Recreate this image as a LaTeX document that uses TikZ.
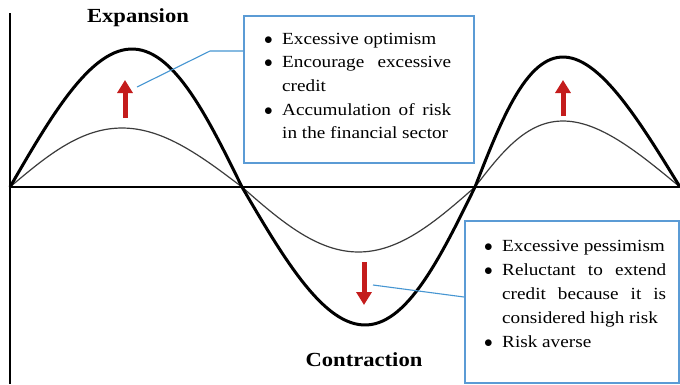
\documentclass[tikz,border=0pt]{standalone}
\usepackage{fontspec}
\setmainfont{Liberation Serif}[FakeStretch=1.13]
\usetikzlibrary{arrows.meta}
\definecolor{boxblue}{RGB}{91,155,213}
\definecolor{linkblue}{RGB}{70,150,210}
\definecolor{arrowred}{RGB}{196,28,28}
\definecolor{thingray}{RGB}{60,60,60}
\newcommand\bulletbox{\makebox[18pt][l]{$\bullet$}}
\begin{document}
\begin{tikzpicture}[x=1pt,y=-1pt,
 axisline/.style={line width=2pt, black},
 thickcurve/.style={line width=3pt, black, line join=round},
 thincurve/.style={line width=1.2pt, thingray, line join=round},
 bluebox/.style={draw=boxblue, line width=2pt, fill=white, inner sep=0pt},
 boxtext/.style={anchor=north west, inner sep=0pt, align=left},
 conn/.style={draw=linkblue, line width=1.1pt},
 redarrow/.style={draw=arrowred, line width=5pt, -{Triangle[width=15pt,length=13pt]}},
 title/.style={font=\fontsize{20}{24}\selectfont\bfseries, anchor=base, inner sep=0pt}
]
\fill[white] (0,0) rectangle (680,384);
\useasboundingbox (0,0) rectangle (680,384);

% axes
\coordinate (ytop) at (10,13);
\coordinate (ybot) at (10,384);
\coordinate (xl) at (10,187);
\coordinate (xr) at (680,187);
\draw[axisline] (ytop) -- (ybot);
\draw[axisline] (xl) -- (xr);

% curves
\draw[thincurve] plot[domain=0:180,samples=60] ({10+1.288889*\x-4*sin(\x)},{187-59*sin(\x)})
  -- plot[domain=0:180,samples=60] ({242+1.294444*\x},{187+65*sin(\x)})
  -- plot[domain=0:180,samples=60] ({475+1.138889*\x-14.5*sin(\x)},{187-66*sin(\x)});
\draw[thickcurve] plot[domain=0:180,samples=60] ({10+1.288889*\x+6*sin(\x)},{187-138*sin(\x)})
  -- plot[domain=0:180,samples=60] ({242+1.294444*\x+6.5*sin(\x)},{187+138*sin(\x)})
  -- plot[domain=0:180,samples=60] ({475+1.138889*\x-14.5*sin(\x)},{187-130*sin(\x)});

% titles
\node[title] (exp) at (138,22) {Expansion};
\node[title] (con) at (364,366) {Contraction};

% boxes
\node[bluebox, anchor=north west, minimum width=230pt, minimum height=147pt] (box1) at (243,15) {};
\node[bluebox, anchor=north west, minimum width=214pt, minimum height=162pt] (box2) at (464,220) {};

\node[boxtext, font=\fontsize{17}{23.7}\selectfont] (t1) at (264,27.4)
 {\strut\bulletbox Excessive optimism\\
  \bulletbox\makebox[169pt][s]{Encourage excessive}\\
  \hspace*{18pt}credit\\
  \bulletbox\makebox[169pt][s]{Accumulation of risk}\\
  \hspace*{18pt}in the financial sector};
\node[boxtext, font=\fontsize{17}{24}\selectfont] (t2) at (484,234.2)
 {\strut\bulletbox Excessive pessimism\\
  \bulletbox\makebox[164pt][s]{Reluctant to extend}\\
  \hspace*{18pt}\makebox[164pt][s]{credit because it is}\\
  \hspace*{18pt}considered high risk\\
  \bulletbox Risk averse};

% connectors
\coordinate (c1) at (137,87);
\coordinate (c1b) at (210,51);
\coordinate (c1e) at (243,51);
\draw[conn] (c1) -- (c1b) -- (c1e);
\coordinate (c2) at (373,285);
\coordinate (c2e) at (464,297);
\draw[conn] (c2) -- (c2e);

% red arrows
\coordinate (a1s) at (125,118);
\coordinate (a1e) at (125,80);
\coordinate (a2s) at (563,116);
\coordinate (a2e) at (563,80);
\coordinate (a3s) at (364,262);
\coordinate (a3e) at (364,305);
\draw[redarrow] (a1s) -- (a1e);
\draw[redarrow] (a2s) -- (a2e);
\draw[redarrow] (a3s) -- (a3e);
\end{tikzpicture}
\end{document}
